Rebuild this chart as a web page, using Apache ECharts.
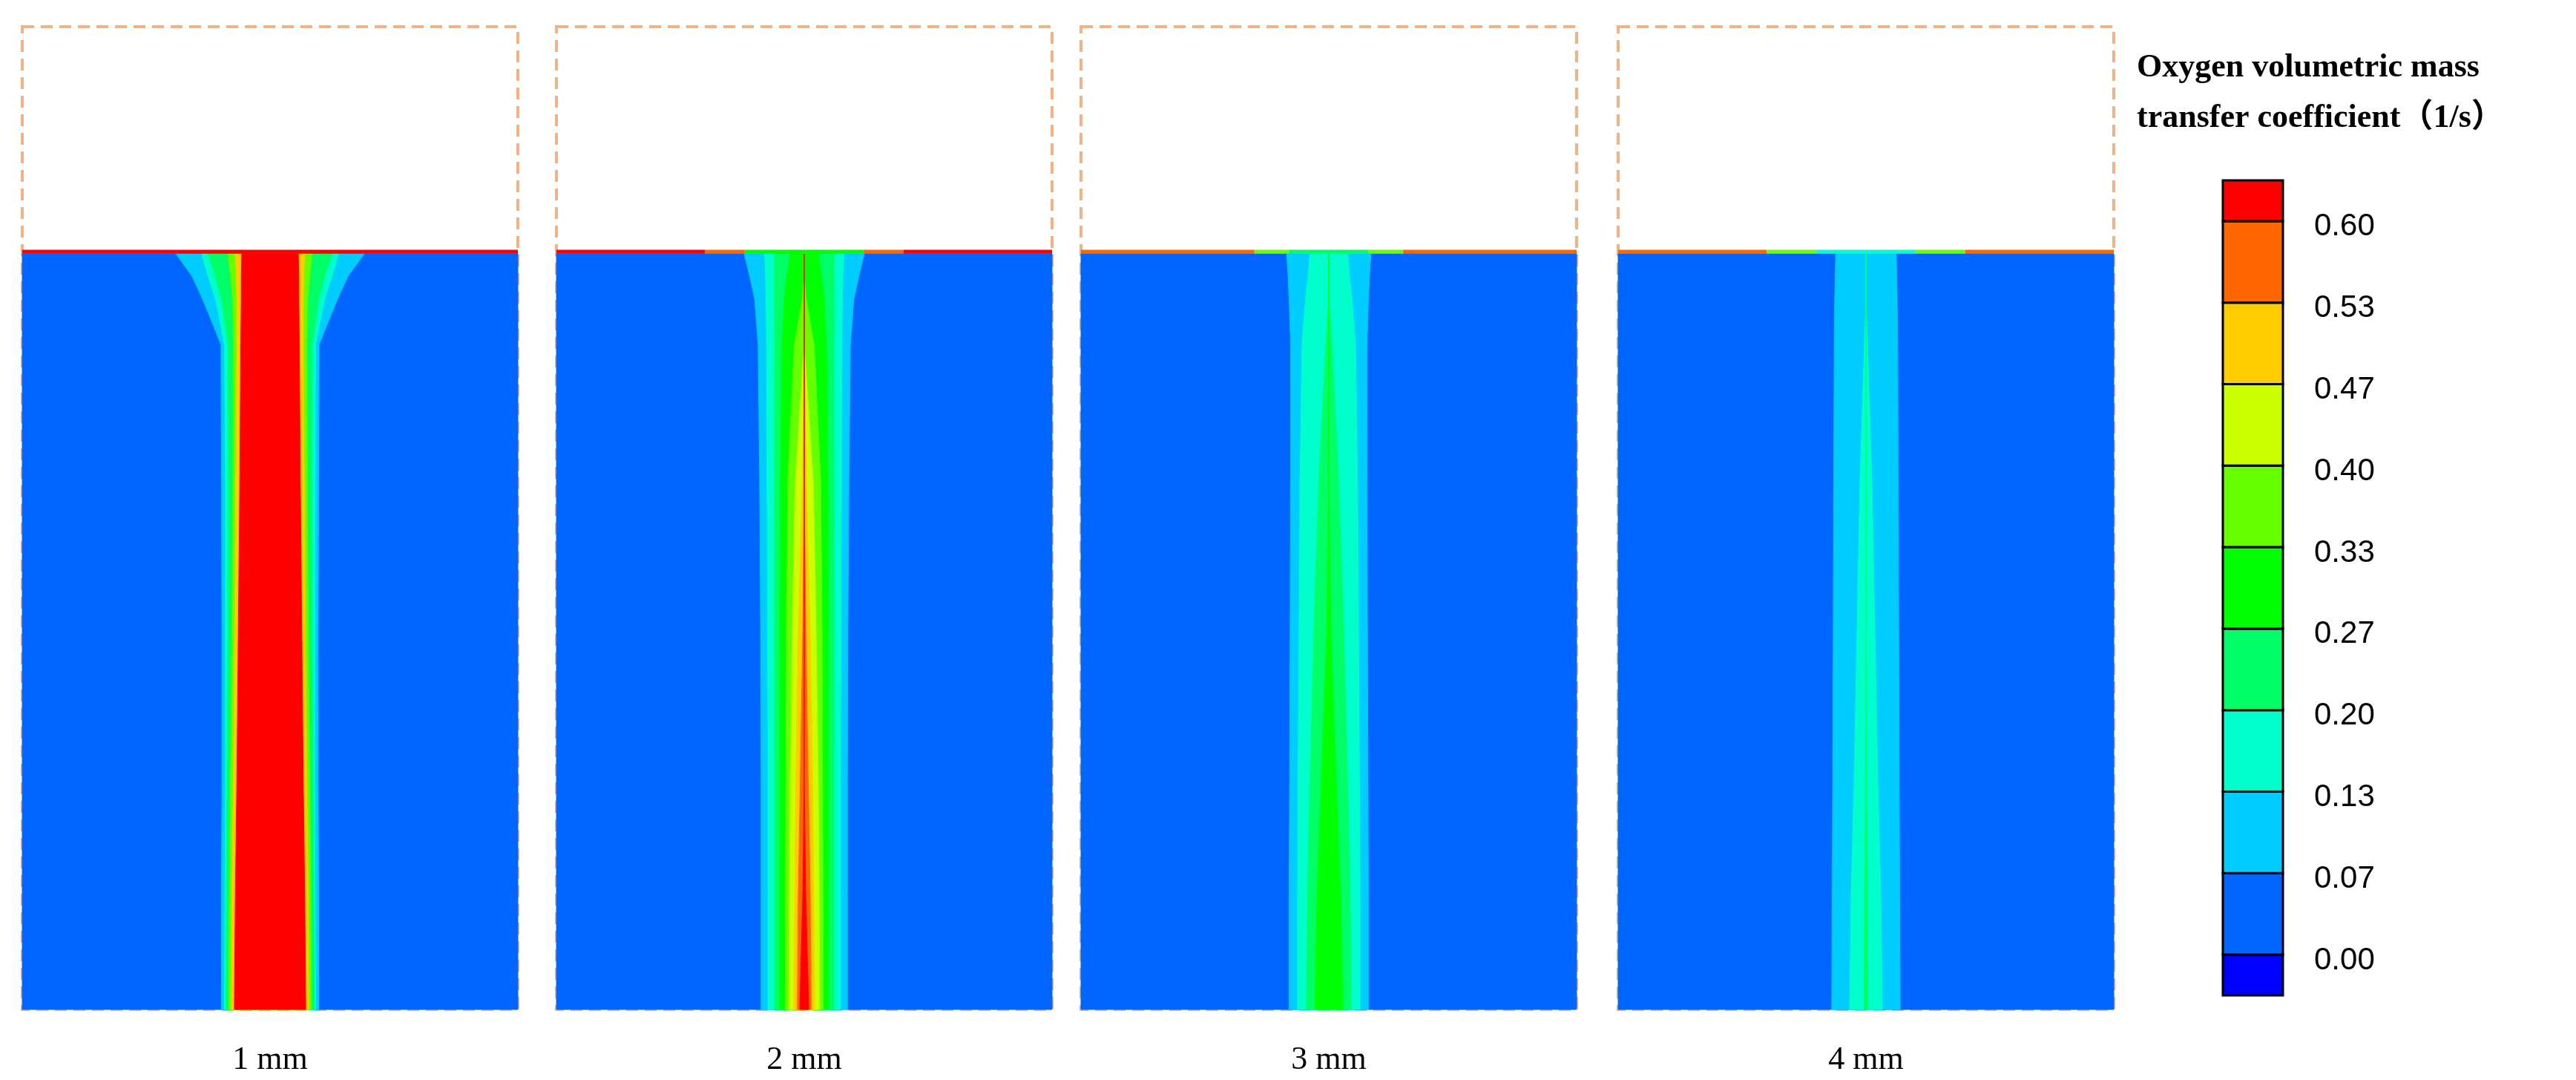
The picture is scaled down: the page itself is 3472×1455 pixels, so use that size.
<!DOCTYPE html>
<html>
<head>
<meta charset="utf-8">
<script src="https://cdn.jsdelivr.net/npm/echarts@6/dist/echarts.min.js"></script>
<style>html,body{margin:0;padding:0;background:#fff}#main{width:3472px;height:1455px}</style>
</head>
<body>
<div id="main"></div>
<script>
var chart = echarts.init(document.getElementById('main'));

// contour colour bins (colorbar, bottom to top)
const binColors = ['#0000FF', '#0066FF', '#00CCFF', '#00FFCC', '#00FF66', '#00FF00', '#66FF00', '#CCFF00', '#FFCC00', '#FF6600', '#FF0000'];
const tickLabels = ['0.00', '0.07', '0.13', '0.20', '0.27', '0.33', '0.40', '0.47', '0.53', '0.60'];
const panelNames = ['1 mm', '2 mm', '3 mm', '4 mm'];

// depth below liquid surface (0 = surface, 1 = bottom)
const depths = [0, 0.03, 0.06, 0.12, 0.3, 0.5, 0.7, 0.85, 1.0];
const surfaceLevel = 0.769;

// bands per panel: [bin, half-widths at each depth] (fraction of panel width), outer first
const bands1mm = [
  [1, [0.5, 0.5, 0.5, 0.5, 0.5, 0.5, 0.5, 0.5, 0.5]],
  [2, [0.19, 0.157, 0.136, 0.099, 0.098, 0.097, 0.097, 0.098, 0.098]],
  [3, [0.138, 0.125, 0.11, 0.092, 0.09, 0.09, 0.09, 0.091, 0.092]],
  [4, [0.125, 0.11, 0.098, 0.085, 0.084, 0.085, 0.087, 0.088, 0.089]],
  [6, [0.085, 0.08, 0.076, 0.074, 0.075, 0.077, 0.08, 0.082, 0.083]],
  [8, [0.07, 0.068, 0.067, 0.067, 0.069, 0.071, 0.074, 0.077, 0.078]],
  [10, [0.057, 0.058, 0.058, 0.059, 0.061, 0.064, 0.067, 0.07, 0.072]]
];
const bands2mm = [
  [1, [0.5, 0.5, 0.5, 0.5, 0.5, 0.5, 0.5, 0.5, 0.5]],
  [2, [0.121, 0.11, 0.1, 0.093, 0.09, 0.088, 0.087, 0.087, 0.087]],
  [3, [0.08, 0.078, 0.077, 0.076, 0.075, 0.074, 0.073, 0.073, 0.073]],
  [4, [0.06, 0.06, 0.06, 0.06, 0.06, 0.06, 0.06, 0.06, 0.06]],
  [5, [0.028, 0.035, 0.04, 0.045, 0.048, 0.049, 0.049, 0.049, 0.049]],
  [6, [0.0, 0.0, 0.004, 0.02, 0.033, 0.036, 0.037, 0.038, 0.038]],
  [7, [0.0, 0.0, 0.0, 0.0, 0.018, 0.024, 0.028, 0.03, 0.031]],
  [8, [0.0, 0.0, 0.0, 0.0, 0.004, 0.012, 0.017, 0.019, 0.021]],
  [9, [0.0, 0.0, 0.0, 0.0, 0.0, 0.003, 0.008, 0.012, 0.014]],
  [10, [0.0, 0.0, 0.0, 0.0, 0.0, 0.0, 0.0, 0.003, 0.009]]
];
const bands3mm = [
  [1, [0.5, 0.5, 0.5, 0.5, 0.5, 0.5, 0.5, 0.5, 0.5]],
  [2, [0.085, 0.082, 0.08, 0.077, 0.077, 0.078, 0.079, 0.08, 0.08]],
  [3, [0.038, 0.042, 0.047, 0.054, 0.058, 0.06, 0.062, 0.063, 0.063]],
  [4, [0.0, 0.0, 0.0, 0.006, 0.02, 0.03, 0.038, 0.043, 0.045]],
  [5, [0.0, 0.0, 0.0, 0.0, 0.0, 0.004, 0.015, 0.024, 0.028]]
];
const bands4mm = [
  [1, [0.5, 0.5, 0.5, 0.5, 0.5, 0.5, 0.5, 0.5, 0.5]],
  [2, [0.061, 0.062, 0.063, 0.064, 0.065, 0.066, 0.067, 0.068, 0.069]],
  [3, [0.0, 0.0, 0.0, 0.003, 0.012, 0.018, 0.024, 0.03, 0.033]],
  [4, [0.0, 0.0, 0.0, 0.0, 0.0, 0.0, 0.001, 0.003, 0.004]]
];
// thin surface strip: [x from, x to, bin]
const surface1mm = [[-0.5, 0.5, 10]];
const surface2mm = [[-0.5, -0.2, 10], [-0.2, -0.12, 9], [-0.12, 0.12, 5], [0.12, 0.2, 9], [0.2, 0.5, 10]];
const surface3mm = [[-0.5, -0.15, 9], [-0.15, -0.08, 6], [-0.08, 0.08, 4], [0.08, 0.15, 6], [0.15, 0.5, 9]];
const surface4mm = [[-0.5, -0.2, 9], [-0.2, -0.1, 6], [-0.1, 0.1, 3], [0.1, 0.2, 6], [0.2, 0.5, 9]];

const panelBands = [bands1mm, bands2mm, bands3mm, bands4mm];
const panelSurface = [surface1mm, surface2mm, surface3mm, surface4mm];
const panelLefts = [30, 750, 1457, 2181];

var grids = [], xAxes = [], yAxes = [], series = [];

panelBands.forEach(function (bands, p) {
  grids.push({
    left: panelLefts[p], top: 36, width: 668, height: 1329,
    show: true, borderColor: '#F4B183', borderWidth: 4, borderType: [16, 9], backgroundColor: 'transparent'
  });
  xAxes.push({
    gridIndex: p, type: 'value', min: -0.5, max: 0.5, show: true,
    axisLine: { show: false }, axisTick: { show: false }, axisLabel: { show: false }, splitLine: { show: false },
    name: panelNames[p], nameLocation: 'middle', nameGap: 46,
    nameTextStyle: { fontFamily: 'Liberation Serif', fontSize: 44, color: '#000' }
  });
  yAxes.push({ gridIndex: p, type: 'value', min: 0, max: 1, show: false });
  series.push({
    type: 'custom', xAxisIndex: p, yAxisIndex: p, silent: true,
    data: bands.map(function (b, i) { return [i]; }),
    renderItem: function (params, api) {
      var b = bands[api.value(0)];
      var hw = b[1];
      var pts = [];
      depths.forEach(function (d, k) { pts.push(api.coord([-hw[k], surfaceLevel * (1 - d)])); });
      for (var k = depths.length - 1; k >= 0; k--) pts.push(api.coord([hw[k], surfaceLevel * (1 - depths[k])]));
      return { type: 'polygon', shape: { points: pts }, style: { fill: binColors[b[0]], stroke: binColors[b[0]], lineWidth: 1 } };
    }
  });
  var surf = panelSurface[p];
  series.push({
    type: 'custom', xAxisIndex: p, yAxisIndex: p, silent: true,
    data: surf.map(function (s, i) { return [i]; }),
    renderItem: function (params, api) {
      var s = surf[api.value(0)];
      var a = api.coord([s[0], surfaceLevel + 0.004]);
      var c = api.coord([s[1], surfaceLevel]);
      return { type: 'rect', shape: { x: a[0], y: a[1], width: c[0] - a[0], height: c[1] - a[1] }, style: { fill: binColors[s[2]] } };
    }
  });
});

// colorbar
var cb = grids.length;
grids.push({ left: 2996, top: 243, width: 81, height: 1098, show: false });
xAxes.push({ gridIndex: cb, type: 'value', min: 0, max: 1, show: false });
yAxes.push({ gridIndex: cb, type: 'value', min: -0.5, max: 9.5, show: false });
series.push({
  type: 'custom', xAxisIndex: cb, yAxisIndex: cb, silent: true,
  data: binColors.map(function (c, i) { return [i]; }),
  renderItem: function (params, api) {
    var i = api.value(0);
    var lo = Math.max(i - 1, -0.5), hi = Math.min(i, 9.5);
    var a = api.coord([0, hi]), c = api.coord([1, lo]);
    return { type: 'rect', shape: { x: a[0], y: a[1], width: c[0] - a[0], height: c[1] - a[1] },
      style: { fill: binColors[i], stroke: '#000', lineWidth: 3 } };
  }
});
series.push({
  type: 'custom', xAxisIndex: cb, yAxisIndex: cb, silent: true,
  data: tickLabels.map(function (t, i) { return [i]; }),
  renderItem: function (params, api) {
    var i = api.value(0);
    var p = api.coord([1, i]);
    return { type: 'text', x: p[0] + 42, y: p[1] + 8,
      style: { text: tickLabels[i], fill: '#000', font: '42px "Liberation Sans"', verticalAlign: 'middle' } };
  }
});

var option = {
  backgroundColor: '#fff',
  animation: false,
  grid: grids, xAxis: xAxes, yAxis: yAxes, series: series,
  graphic: [{
    type: 'text', left: 2880, top: 58,
    style: {
      text: 'Oxygen volumetric mass\ntransfer coefficient（1/s）',
      font: 'bold 44px "Liberation Serif", "Noto Sans CJK SC"', lineHeight: 68, fill: '#000'
    }
  }]
};
chart.setOption(option);
</script>
</body>
</html>
